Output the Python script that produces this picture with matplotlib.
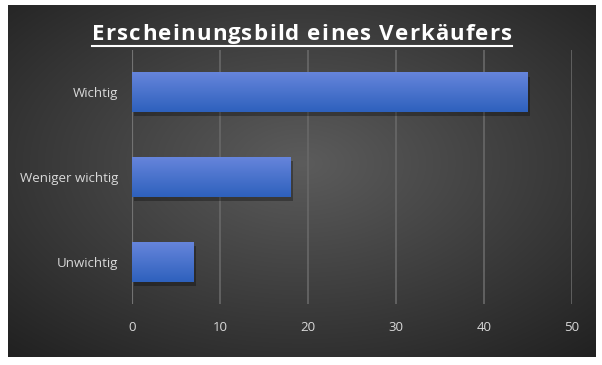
import matplotlib
matplotlib.use("Agg")
import matplotlib.pyplot as plt
import numpy as np

# data
categories = ["Wichtig", "Weniger wichtig", "Unwichtig"]
values = [45, 18, 7]
xticks = [0, 10, 20, 30, 40, 50]
title = "Erscheinungsbild eines Verkäufers"

plt.rcParams['font.family'] = ['Open Sans', 'DejaVu Sans']

W, H = 602, 365
fig = plt.figure(figsize=(W / 100, H / 100), dpi=100)
fig.patch.set_facecolor("white")

# dark panel with radial gradient
px0, px1, py0, py1 = 8, 596, 5, 357
bg = fig.add_axes([px0 / W, 1 - py1 / H, (px1 - px0) / W, (py1 - py0) / H])
gx, gy = np.meshgrid(np.linspace(-1, 1, 300), np.linspace(-1, 1, 200))
r = np.sqrt(gx ** 2 + (gy + 0.1) ** 2) / np.sqrt(2)
shade = 0.36 - 0.22 * r
img = np.dstack([shade, shade, shade])
bg.imshow(img, aspect="auto", extent=[0, 1, 0, 1], interpolation="bilinear")
bg.set_axis_off()

# plot area
ax0, ax1, ay0, ay1 = 132, 572, 50, 304
ax = fig.add_axes([ax0 / W, 1 - ay1 / H, (ax1 - ax0) / W, (ay1 - ay0) / H])
ax.patch.set_alpha(0)
ypos = np.arange(len(categories))

# shadow
ax.barh(ypos + 0.05, values, height=0.47, left=0.25, color="black", alpha=0.3, zorder=2)
bars = ax.barh(ypos, values, height=0.47, color="#3f6ad0", zorder=3)

# vertical gradient on each bar
grad = np.linspace(0, 1, 100).reshape(-1, 1)
top = np.array([0.40, 0.52, 0.86])
bot = np.array([0.18, 0.38, 0.74])
gimg = top + (bot - top) * grad[..., None]
gimg = np.repeat(gimg, 2, axis=1)
for b in bars:
    x, y = b.get_x(), b.get_y()
    w, h = b.get_width(), b.get_height()
    im = ax.imshow(gimg, extent=[x, x + w, y + h, y], aspect="auto", zorder=4,
                   interpolation="bilinear")
    im.set_clip_path(b)

ax.set_xlim(0, 50)
ax.set_ylim(len(categories) - 0.5, -0.5)
ax.set_xticks(xticks)
ax.set_yticks(ypos)
ax.set_yticklabels(categories)
ax.grid(axis="x", color="#686868", linewidth=1.2, zorder=0)
ax.axvline(0, color="#a8a8a8", linewidth=1.5, zorder=1)
for s in ax.spines.values():
    s.set_visible(False)
ax.tick_params(axis="both", length=0, colors="#d9d9d9", labelsize=9.5)
ax.tick_params(axis="x", pad=12)
ax.tick_params(axis="y", pad=10)

# title, letter spaced, with underline
tx0, tx1, ty = 92, 512, 34
fig.canvas.draw()
rend = fig.canvas.get_renderer()
tprops = dict(fontsize=16, fontweight="bold", color="white", va="center", ha="left")

def width_of(s):
    if not s:
        return 0.0
    tmp = fig.text(0, 0, s, **tprops)
    w = tmp.get_window_extent(rend).width
    tmp.remove()
    return w

full = width_of(title)
sp = (tx1 - tx0 - full) / (len(title) - 1)
for i, ch in enumerate(title):
    xpix = tx0 + width_of(title[:i]) + i * sp
    fig.text(xpix / W, 1 - ty / H, ch, **tprops)
fig.add_artist(plt.Line2D([tx0 / W, tx1 / W], [1 - 46 / H, 1 - 46 / H],
                          color="white", linewidth=1.5, transform=fig.transFigure))

fig.savefig("out.png", dpi=100, facecolor=fig.get_facecolor())
